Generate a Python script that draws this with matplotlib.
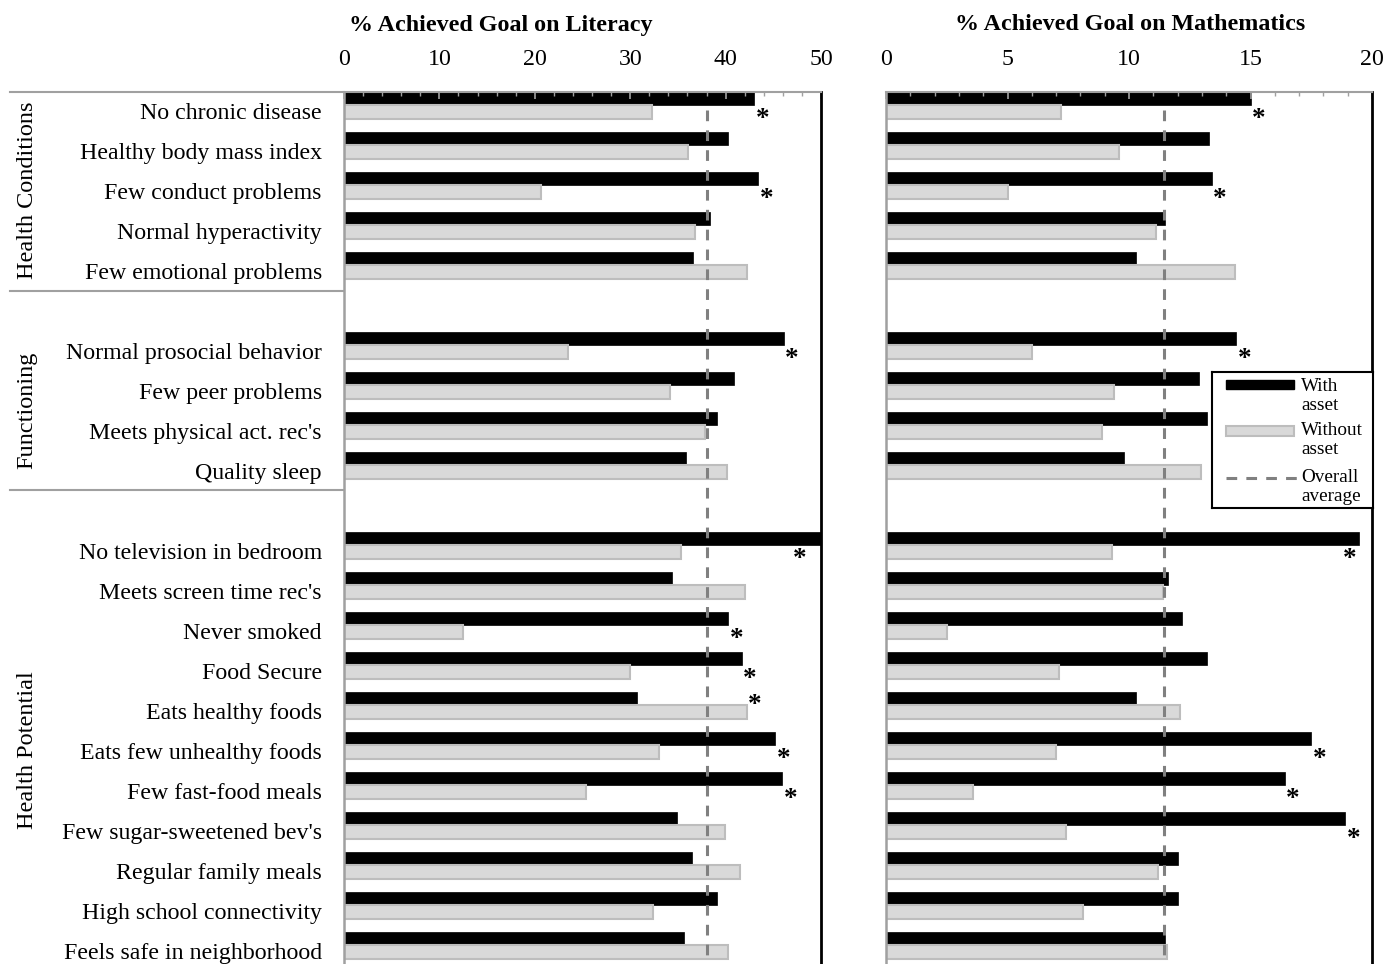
import matplotlib
matplotlib.use("Agg")
import matplotlib.pyplot as plt
import numpy as np

plt.rcParams['font.family'] = ['Liberation Serif', 'DejaVu Serif']

categories = ["No chronic disease", "Healthy body mass index", "Few conduct problems",
              "Normal hyperactivity", "Few emotional problems",
              "Normal prosocial behavior", "Few peer problems", "Meets physical act. rec's",
              "Quality sleep",
              "No television in bedroom", "Meets screen time rec's", "Never smoked",
              "Food Secure", "Eats healthy foods", "Eats few unhealthy foods",
              "Few fast-food meals", "Few sugar-sweetened bev's", "Regular family meals",
              "High school connectivity", "Feels safe in neighborhood"]
groups = ["Health Conditions", "Functioning", "Health Potential"]
group_sizes = [5, 4, 11]

lit_with = [43.0, 40.2, 43.4, 38.4, 36.6,
            46.1, 40.9, 39.1, 35.9,
            50.2, 34.4, 40.3, 41.7, 30.7, 45.2, 45.9, 34.9, 36.5, 39.1, 35.6]
lit_without = [32.3, 36.1, 20.7, 36.8, 42.2,
               23.5, 34.2, 37.8, 40.1,
               35.3, 42.0, 12.5, 30.0, 42.2, 33.0, 25.4, 39.9, 41.5, 32.4, 40.2]
lit_sig = [1, 0, 1, 0, 0,
           1, 0, 0, 0,
           1, 0, 1, 1, 1, 1, 1, 0, 0, 0, 0]
lit_avg = 38.1

math_with = [15.0, 13.3, 13.4, 11.5, 10.3,
             14.4, 12.9, 13.2, 9.8,
             19.45, 11.6, 12.2, 13.2, 10.3, 17.5, 16.4, 18.9, 12.0, 12.0, 11.5]
math_without = [7.2, 9.6, 5.0, 11.1, 14.35,
                6.0, 9.4, 8.9, 12.95,
                9.3, 11.4, 2.5, 7.1, 12.1, 7.0, 3.6, 7.4, 11.2, 8.1, 11.55]
math_sig = [1, 0, 1, 0, 0,
            1, 0, 0, 0,
            1, 0, 0, 0, 0, 1, 1, 1, 0, 0, 0]
math_avg = 11.45

legend_labels = ["With\nasset", "Without\nasset", "Overall\naverage"]
titles = ["% Achieved Goal on Literacy", "% Achieved Goal on Mathematics"]

W, H = 1387, 964
fig = plt.figure(figsize=(W / 100, H / 100), dpi=100)

# slot positions (one blank slot between groups)
slots = []
s = 0
for gi, n in enumerate(group_sizes):
    for k in range(n):
        slots.append(s)
        s += 1
    s += 1
slots = np.array(slots, dtype=float)

BLACK = '#000000'
GRAY_FILL = '#d9d9d9'
GRAY_EDGE = '#bdbdbd'
AX_GRAY = '#a0a0a0'
DASH_GRAY = '#808080'
FS = 17.2

def fx(px):
    return px / W

def fy(py):
    return 1 - py / H

ylim = (21.475, -0.325)

def make_panel(left_px, right_px, w_vals, wo_vals, sig, avg, xmax, major, minor, show_labels):
    ax = fig.add_axes([fx(left_px), 0, (right_px - left_px) / W, (H - 92) / H])
    ax.barh(slots - 0.1625, w_vals, height=0.33, color=BLACK, edgecolor=BLACK, linewidth=0.5)
    ax.barh(slots + 0.175, wo_vals, height=0.33, color=GRAY_FILL, edgecolor=GRAY_EDGE, linewidth=1.5)
    ax.set_xlim(0, xmax)
    ax.set_ylim(*ylim)
    ax.plot([avg, avg], [0.125, ylim[0]], color=DASH_GRAY, lw=2.2,
            linestyle=(0, (3.5, 3.0)), zorder=3)
    ax.xaxis.set_ticks_position('top')
    ax.set_xticks(np.arange(0, xmax + 0.01, major))
    ax.set_xticks(np.arange(0, xmax + 0.01, minor), minor=True)
    ax.tick_params(axis='x', which='major', direction='in', length=5, width=1.2,
                   color=AX_GRAY, labelsize=FS, pad=15.5, labelcolor='black')
    ax.tick_params(axis='x', which='minor', direction='in', length=3, width=1.0,
                   color=AX_GRAY)
    ax.spines['bottom'].set_visible(False)
    ax.spines['top'].set_color(AX_GRAY)
    ax.spines['top'].set_linewidth(1.5)
    ax.spines['left'].set_color(AX_GRAY)
    ax.spines['left'].set_linewidth(1.8)
    ax.spines['right'].set_color(BLACK)
    ax.spines['right'].set_linewidth(2.0)
    if show_labels:
        ax.set_yticks(slots + 0.15)
        ax.set_yticklabels(categories, fontsize=FS)
        ax.tick_params(axis='y', length=0, pad=16)
    else:
        ax.set_yticks([])
    # significance stars
    for i in range(len(slots)):
        if not sig[i]:
            continue
        b, g = w_vals[i], wo_vals[i]
        xe = max(b, g)
        if xe + 0.04 * xmax > xmax:
            xs, dx = xmax * 0.955, 0
        else:
            xs, dx = xe, 6
        ys = slots[i] + 0.175 if b >= g else slots[i] - 0.1625
        ax.annotate('*', (xs, ys), xytext=(dx, -10.0), textcoords='offset points',
                    ha='center', va='baseline', fontsize=19.5, fontweight='bold',
                    annotation_clip=False)
    return ax

ax1 = make_panel(344, 821, lit_with, lit_without, lit_sig, lit_avg, 50, 10, 2, True)
ax2 = make_panel(886, 1372, math_with, math_without, math_sig, math_avg, 20, 5, 1, False)

# group separators and labels on the left
trans = ax1.get_yaxis_transform()
x_left = (10 - 344) / (821 - 344)
for yv in [-0.325, 4.65, 9.625]:
    ax1.plot([x_left, 0], [yv, yv], color=AX_GRAY, lw=1.5, transform=trans, clip_on=False)
x_glab = (27 - 344) / (821 - 344)
gstart = 0
for g, n in zip(groups, group_sizes):
    yc = (slots[gstart] + slots[gstart + n - 1]) / 2 + 0.125
    ax1.text(x_glab, yc, g, rotation=90, ha='center', va='center', fontsize=17.5,
             transform=trans)
    gstart += n

# titles
fig.text(fx(501), fy(25), titles[0], ha='center', va='center', fontsize=17.3, fontweight='bold')
fig.text(fx(1130), fy(25), titles[1], ha='center', va='center', fontsize=17.3, fontweight='bold')

# legend box
lx0, ly0, lx1, ly1 = 1212, 372, 1373, 508
lax = fig.add_axes([fx(lx0), fy(ly1), (lx1 - lx0) / W, (ly1 - ly0) / H])
lax.set_xlim(0, lx1 - lx0)
lax.set_ylim(ly1 - ly0, 0)
lax.set_xticks([])
lax.set_yticks([])
for sp in lax.spines.values():
    sp.set_color('black')
    sp.set_linewidth(1.5)
lax.add_patch(plt.Rectangle((14, 8), 68, 9, facecolor=BLACK, edgecolor=BLACK))
lax.add_patch(plt.Rectangle((14, 54), 68, 10, facecolor=GRAY_FILL, edgecolor=GRAY_EDGE, lw=1.5))
lax.plot([14, 86], [106, 106], color=DASH_GRAY, lw=2.2, linestyle=(0, (3.5, 3.0)))
for lab, yc in zip(legend_labels, [24, 68, 115]):
    lax.text(89, yc, lab, ha='left', va='center', fontsize=13.8, linespacing=1.2)

fig.savefig('out.png', dpi=100)
